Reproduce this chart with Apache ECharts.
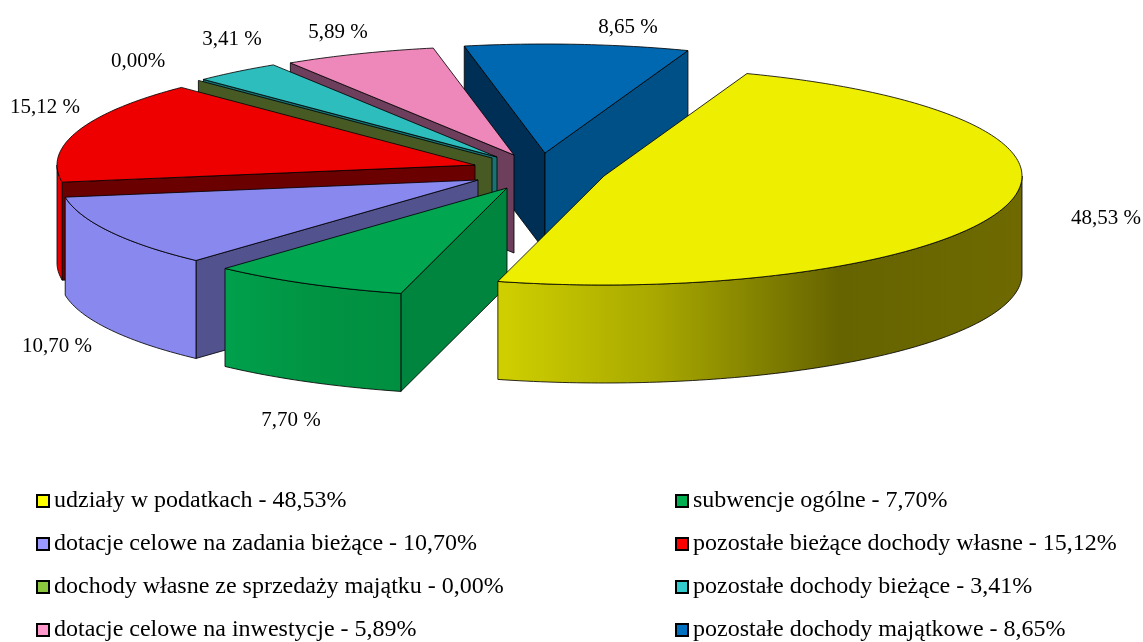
<!DOCTYPE html>
<html>
<head>
<meta charset="utf-8">
<style>html,body{margin:0;padding:0;background:#fff}#chart{width:1143px;height:642px}</style>
<script src="https://cdn.jsdelivr.net/npm/echarts@6/dist/echarts.min.js"></script>
</head>
<body>
<div id="chart"></div>
<script>
// ---- data ----
const categories = [
  'udziały w podatkach',
  'subwencje ogólne',
  'dotacje celowe na zadania bieżące',
  'pozostałe bieżące dochody własne',
  'dochody własne ze sprzedaży majątku',
  'pozostałe dochody bieżące',
  'dotacje celowe na inwestycje',
  'pozostałe dochody majątkowe'
];
const shares = [48.53, 7.70, 10.70, 15.12, 0.00, 3.41, 5.89, 8.65];
const legendTexts = [
  'udziały w podatkach - 48,53%',
  'subwencje ogólne - 7,70%',
  'dotacje celowe na zadania bieżące - 10,70%',
  'pozostałe bieżące dochody własne - 15,12%',
  'dochody własne ze sprzedaży majątku - 0,00%',
  'pozostałe dochody bieżące - 3,41%',
  'dotacje celowe na inwestycje - 5,89%',
  'pozostałe dochody majątkowe - 8,65%'
];
const valueLabels = ['48,53 %','7,70 %','10,70 %','15,12 %','0,00%','3,41 %','5,89 %','8,65 %'];

// ---- layout and styling of the 3D pie ----
const FIRST_ANGLE = 20, RX = 418, RY = 109, DEPTH = 98;
const apexes = [[604,176],[507,188],[478,180],[475,165],[492,158],[497,157],[514,155],[545,153]];
const labelAnchors = [[1106,218],[291,420],[57,346],[45,107],[138,61],[232,39],[338,32],[628,27]];
const topColors = ['#eeee00','#00a650','#8888ee','#ee0000','#8cc63f','#2dbdbd','#ee88bb','#0068b0'];
const faceStart = ['#666600','#00853f','#52528f','#6b0000','#475a24','#1a7373','#6e3f5c','#002f55'];
const faceEnd = ['#666600','#00853f','#52528f','#6b0000','#475a24','#1a7373','#6e3f5c','#005088'];
const wallStops = [
  [[0,'#d0d000'],[0.3,'#a8a800'],[0.65,'#666400'],[1,'#6e6a00']],
  [[0,'#00a04c'],[0.5,'#009443'],[1,'#008f40']],
  [[0,'#8888ee'],[1,'#8888ee']],
  [[0,'#ee0000'],[1,'#dd0000']],
  [[0,'#475a24'],[1,'#475a24']],
  [[0,'#1a7373'],[1,'#1a7373']],
  [[0,'#6e3f5c'],[1,'#6e3f5c']],
  [[0,'#005088'],[1,'#005088']]
];
const legendColors = ['#ffff00','#00b050','#9999ff','#ff0000','#8cc63f','#33cccc','#ff99cc','#0070c0'];
const drawOrder = [7,6,5,4,3,2,1,0];
const LINE = 'rgba(0,0,0,0.82)';
const FONT = '"Liberation Serif","Times New Roman",serif';

// cumulative angles, clockwise from north
const total = shares.reduce((a,b)=>a+b,0);
const spans = [];
shares.reduce((acc,v)=>{ const s=acc, e=acc+v/total*360; spans.push([s,e]); return e; }, FIRST_ANGLE);

function pt(apex, deg, dy) {
  const r = deg*Math.PI/180;
  return [apex[0]+RX*Math.sin(r), apex[1]-RY*Math.cos(r)+(dy||0)];
}
function arc(apex, a, b, dy) {
  const pts = [], n = Math.max(2, Math.ceil(Math.abs(b-a)));
  for (let i=0;i<=n;i++) pts.push(pt(apex, a+(b-a)*i/n, dy));
  return pts;
}
function poly(points, fill) {
  return {type:'polygon', shape:{points}, style:{fill, stroke:LINE, lineWidth:1, lineJoin:'round'}};
}
function quad(apex, deg, fill) {
  const o = pt(apex,deg);
  return poly([apex, o, [o[0],o[1]+DEPTH], [apex[0],apex[1]+DEPTH]], fill);
}
function renderSlice(idx) {
  return function () {
    const apex = apexes[idx], [a,b] = spans[idx];
    const sa = Math.sin(a*Math.PI/180), sb = Math.sin(b*Math.PI/180);
    const children = [];
    if (sa < 0) children.push(quad(apex,a,faceStart[idx]));
    if (sb > 0) children.push(quad(apex,b,faceEnd[idx]));
    // outer wall: only the part of the rim that faces the viewer (90..270 degrees)
    const wa = Math.max(a,90), wb = Math.min(b,270);
    if (wb > wa) {
      const topEdge = arc(apex,wa,wb,0), botEdge = arc(apex,wb,wa,DEPTH);
      children.push(poly(topEdge.concat(botEdge), new echarts.graphic.LinearGradient(0,0,1,0,
        wallStops[idx].map(s=>({offset:s[0],color:s[1]})))));
    }
    if (b > a) children.push(poly([apex].concat(arc(apex,a,b,0)), topColors[idx]));
    children.push({type:'text', style:{
      text:valueLabels[idx], x:labelAnchors[idx][0], y:labelAnchors[idx][1],
      font:'21px '+FONT, fill:'#000', align:'center', verticalAlign:'middle'
    }});
    return {type:'group', children};
  };
}
const series = drawOrder.map(i=>({
  type:'custom', name:legendTexts[i], coordinateSystem:'none', silent:true,
  itemStyle:{color:legendColors[i]}, data:[[shares[i]]], renderItem:renderSlice(i), z:2
}));
function legendBlock(left, ids) {
  return {
    orient:'vertical', left, top:489, height:153, itemWidth:12, itemHeight:12, itemGap:19, icon:'rect',
    selectedMode:false, padding:0,
    textStyle:{fontFamily:FONT, fontSize:24, color:'#000'},
    data:ids.map(i=>({name:legendTexts[i], icon:'rect',
      itemStyle:{color:legendColors[i], borderColor:'#000', borderWidth:2}}))
  };
}
const chart = echarts.init(document.getElementById('chart'), null, {renderer:'canvas'});
chart.setOption({
  animation:false, backgroundColor:'#fff',
  legend:[legendBlock(36,[0,2,4,6]), legendBlock(675,[1,3,5,7])],
  series
});
</script>
</body>
</html>
